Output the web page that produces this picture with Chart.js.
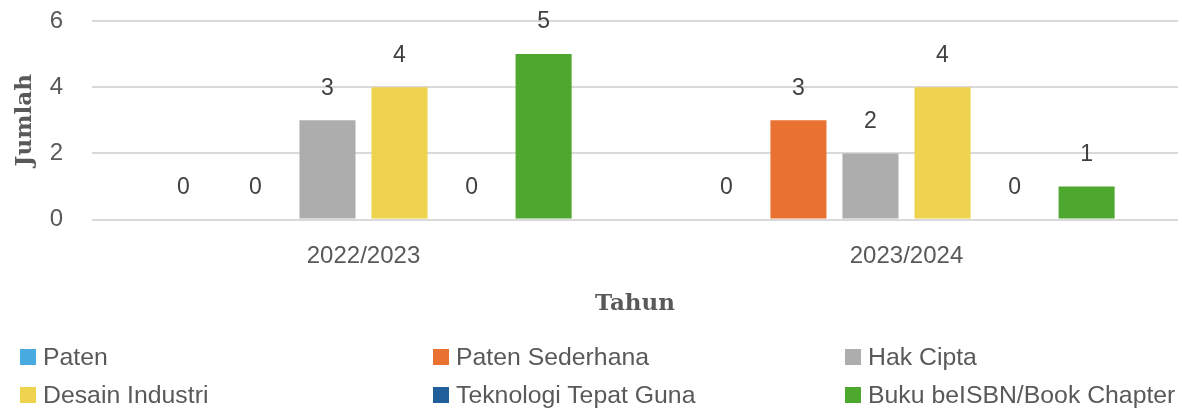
<!DOCTYPE html>
<html>
<head>
<meta charset="utf-8">
<script src="https://cdn.jsdelivr.net/npm/chart.js@4/dist/chart.umd.min.js"></script>
<style>
  html, body { margin: 0; padding: 0; background: #fff; }
  #wrap { position: relative; width: 1182px; height: 410px; overflow: hidden; }
  #c { position: absolute; left: 0; top: 0; }
  .lg { position: absolute; font-family: "Liberation Sans", Arial, sans-serif; font-size: 24.8px; color: #595959; line-height: 28px; white-space: nowrap; }
  .lg span.box { position: absolute; left: 0; top: 6px; width: 16px; height: 16px; }
  .lg span.txt { position: absolute; left: 23px; top: 0; }
</style>
</head>
<body>
<div id="wrap">
  <canvas id="c" width="1182" height="410"></canvas>
  <div id="legend"></div>
</div>
<script>
const categories = ["2022/2023", "2023/2024"];
const seriesNames = ["Paten", "Paten Sederhana", "Hak Cipta", "Desain Industri", "Teknologi Tepat Guna", "Buku beISBN/Book Chapter"];
const paten = [0, 0];
const patenSederhana = [0, 3];
const hakCipta = [3, 2];
const desainIndustri = [4, 4];
const teknologiTepatGuna = [0, 0];
const bukuISBN = [5, 1];
const yTicks = [0, 2, 4, 6];
const colors = ["#47ABDF", "#E97132", "#ADADAD", "#EFD24E", "#215F9A", "#4EA72E"];

const seriesValues = [paten, patenSederhana, hakCipta, desainIndustri, teknologiTepatGuna, bukuISBN];

const datasets = seriesNames.map((name, i) => ({
  label: name,
  data: seriesValues[i],
  backgroundColor: colors[i],
  borderWidth: 0,
  categoryPercentage: 0.796,
  barPercentage: 0.778
}));

const valueLabels = {
  id: 'valueLabels',
  afterDatasetsDraw(chart) {
    const ctx = chart.ctx;
    ctx.save();
    ctx.font = '23px "Liberation Sans", Arial, sans-serif';
    ctx.fillStyle = '#404040';
    ctx.textAlign = 'center';
    ctx.textBaseline = 'middle';
    chart.data.datasets.forEach((ds, di) => {
      const meta = chart.getDatasetMeta(di);
      meta.data.forEach((bar, idx) => {
        ctx.fillText(String(ds.data[idx]), bar.x, bar.y - 32);
      });
    });
    ctx.restore();
  }
};

const chart = new Chart(document.getElementById('c'), {
  type: 'bar',
  data: { labels: categories, datasets },
  options: {
    responsive: false,
    animation: false,
    devicePixelRatio: 1,
    layout: { padding: { left: 0, right: 4, top: 0, bottom: 92 } },
    plugins: { legend: { display: false }, tooltip: { enabled: false } },
    scales: {
      x: {
        grid: { display: false, drawTicks: false },
        border: { display: false },
        ticks: { color: '#595959', font: { family: '"Liberation Sans", Arial, sans-serif', size: 24 }, padding: 22 },
        title: { display: true, text: 'Tahun', color: '#595959', font: { family: '"DejaVu Serif", serif', size: 23, weight: 'bold' }, padding: { top: -2, bottom: 0 } }
      },
      y: {
        min: 0, max: 6,
        afterBuildTicks(scale) { scale.ticks = yTicks.map(v => ({ value: v })); },
        afterFit(scale) { scale.width = 92; scale.paddingTop = 21; scale.paddingBottom = 0; },
        grid: { color: '#D9D9D9', lineWidth: 2, drawTicks: false },
        border: { display: false },
        ticks: { color: '#595959', font: { family: '"Liberation Sans", Arial, sans-serif', size: 24 }, padding: 29 },
        title: { display: true, text: 'Jumlah', color: '#595959', font: { family: '"DejaVu Serif", serif', size: 23, weight: 'bold' }, padding: { top: 11, bottom: 0 } }
      }
    }
  },
  plugins: [valueLabels]
});

// HTML legend (3 columns x 2 rows)
const legend = document.getElementById('legend');
const colX = [20, 433, 845];
const rowY = [343, 381];
seriesNames.forEach((name, i) => {
  const d = document.createElement('div');
  d.className = 'lg';
  d.style.left = colX[i % 3] + 'px';
  d.style.top = rowY[Math.floor(i / 3)] + 'px';
  d.innerHTML = '<span class="box" style="background:' + colors[i] + '"></span><span class="txt"></span>';
  d.querySelector('.txt').textContent = name;
  legend.appendChild(d);
});
</script>
</body>
</html>
